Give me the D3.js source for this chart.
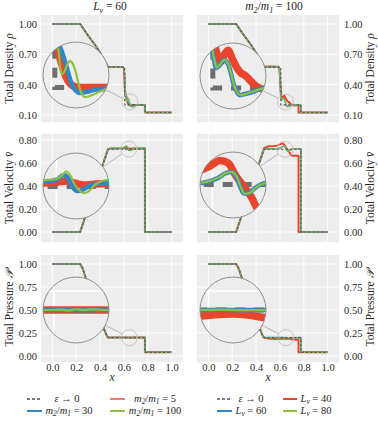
<!DOCTYPE html>
<html lang="en">
<head>
<meta charset="UTF-8">
<title>Shock tube comparison</title>
<script src="https://d3js.org/d3.v7.min.js"></script>
<style>
  body { margin: 0; background: #fff; }
  svg { display: block; }
  svg text { font-family: "Liberation Serif", "DejaVu Serif", serif; }
</style>
</head>
<body>
<svg id="chart" width="378" height="423"></svg>
<script>
// ticks
const xTicks = [0, 0.2, 0.4, 0.6, 0.8, 1.0];
const rhoTicks = [0.10, 0.40, 0.70, 1.00];
const velTicks = [0, 0.2, 0.4, 0.6, 0.8];
const preTicks = [0, 0.25, 0.5, 0.75, 1.0];

// shared rarefaction parts
const rhoFan = [[0, 1], [0.233, 1], [0.3, 0.885], [0.375, 0.765], [0.43, 0.655], [0.467, 0.574]];
const velFan = [[0, 0], [0.233, 0], [0.467, 0.72]];
const preFan = [[0, 1], [0.233, 1], [0.255, 0.95], [0.275, 0.87], [0.32, 0.71], [0.37, 0.53],
                [0.41, 0.375], [0.44, 0.27], [0.46, 0.21], [0.47, 0.2]];

// reference solution, eps -> 0
const refRho = rhoFan.concat([[0.607, 0.574], [0.607, 0.2], [0.776, 0.2], [0.776, 0.125], [1, 0.125]]);
const refVel = velFan.concat([[0.776, 0.72], [0.776, 0], [1, 0]]);
const refPre = preFan.concat([[0.776, 0.2], [0.776, 0.04], [1, 0.04]]);

// left column, L_v = 60 : m2/m1 = 5, 30, 100
const rhoM5 = rhoFan.concat([[0.59, 0.574], [0.597, 0.565], [0.600, 0.55], [0.604, 0.45], [0.608, 0.34],
  [0.6136, 0.29], [0.6197, 0.261], [0.6258, 0.237], [0.6338, 0.216], [0.6439, 0.204], [0.658, 0.2],
  [0.70, 0.2], [0.776, 0.2], [0.776, 0.125], [1, 0.125]]);
const rhoM30 = rhoFan.concat([[0.592, 0.574], [0.601, 0.56], [0.606, 0.48], [0.61, 0.37], [0.6136, 0.314],
  [0.6217, 0.285], [0.6298, 0.254], [0.6359, 0.228], [0.6419, 0.206], [0.65, 0.192], [0.6581, 0.187],
  [0.6702, 0.189], [0.6864, 0.194], [0.7066, 0.1965], [0.7288, 0.199], [0.776, 0.2], [0.776, 0.125], [1, 0.125]]);
const rhoM100 = rhoFan.concat([[0.594, 0.574], [0.602, 0.55], [0.607, 0.45], [0.61, 0.36], [0.6116, 0.314],
  [0.6157, 0.278], [0.6177, 0.249], [0.6217, 0.232], [0.6278, 0.242], [0.6338, 0.259], [0.6379, 0.264],
  [0.6439, 0.256], [0.65, 0.235], [0.6561, 0.204], [0.6621, 0.184], [0.6682, 0.177], [0.6783, 0.18],
  [0.6924, 0.187], [0.7106, 0.196], [0.7288, 0.199], [0.776, 0.2], [0.776, 0.125], [1, 0.125]]);

const velM5 = [[0, 0], [0.233, 0], [0.467, 0.722], [0.5, 0.727], [0.5754, 0.7275], [0.6036, 0.7297],
  [0.6198, 0.7318], [0.636, 0.7275], [0.6562, 0.7233], [0.6804, 0.7254], [0.7046, 0.7265],
  [0.776, 0.727], [0.776, 0], [1, 0]];
const velM30 = [[0, 0], [0.233, 0], [0.467, 0.722], [0.5, 0.728], [0.5754, 0.7297], [0.5915, 0.7318],
  [0.6036, 0.736], [0.6147, 0.7444], [0.6238, 0.7381], [0.6319, 0.7212], [0.64, 0.7117], [0.6461, 0.7107],
  [0.6562, 0.7149], [0.6703, 0.7233], [0.6844, 0.7265], [0.7046, 0.7275], [0.776, 0.728], [0.776, 0], [1, 0]];
const velM100 = [[0, 0], [0.233, 0], [0.467, 0.723], [0.5, 0.732], [0.5754, 0.7339], [0.5956, 0.7349],
  [0.6077, 0.7402], [0.6208, 0.7518], [0.6279, 0.7444], [0.638, 0.7233], [0.6481, 0.7107], [0.6562, 0.7064],
  [0.6663, 0.7107], [0.6804, 0.7254], [0.6925, 0.7318], [0.7046, 0.7339], [0.776, 0.733], [0.776, 0], [1, 0]];

const preM5 = preFan.concat([[0.58, 0.2], [0.62, 0.2], [0.66, 0.2], [0.70, 0.2], [0.776, 0.2], [0.776, 0.04], [1, 0.04]]);
const preM30 = preFan.concat([[0.58, 0.2], [0.62, 0.2005], [0.65, 0.1995], [0.69, 0.2], [0.776, 0.2], [0.776, 0.04], [1, 0.04]]);
const preM100 = preFan.concat([[0.58, 0.2], [0.615, 0.201], [0.63, 0.1985], [0.645, 0.202], [0.66, 0.2],
  [0.68, 0.2015], [0.70, 0.2], [0.776, 0.2], [0.776, 0.04], [1, 0.04]]);

// right column, m2/m1 = 100 : L_v = 40, 60, 80
const rhoL40 = rhoFan.slice(0, 5).concat([[0.467, 0.578], [0.52, 0.58], [0.58, 0.578], [0.588, 0.574],
  [0.595, 0.56], [0.601, 0.48], [0.606, 0.38], [0.609, 0.33], [0.6116, 0.301], [0.6177, 0.277],
  [0.6238, 0.263], [0.6298, 0.279], [0.6379, 0.291], [0.646, 0.272], [0.6561, 0.248], [0.6642, 0.236],
  [0.6722, 0.231], [0.6823, 0.219], [0.6945, 0.205], [0.7066, 0.198], [0.7187, 0.195], [0.74, 0.196],
  [0.756, 0.198], [0.756, 0.125], [1, 0.125]]);
const rhoL60 = rhoFan.concat([[0.588, 0.574], [0.595, 0.56], [0.599, 0.48], [0.602, 0.38], [0.6056, 0.294],
  [0.6096, 0.267], [0.6137, 0.248], [0.6197, 0.253], [0.6298, 0.267], [0.6379, 0.258], [0.644, 0.234],
  [0.65, 0.207], [0.6561, 0.191], [0.6621, 0.183], [0.6722, 0.186], [0.6904, 0.192], [0.7106, 0.2],
  [0.776, 0.2], [0.776, 0.125], [1, 0.125]]);
const rhoL80 = rhoFan.concat([[0.589, 0.574], [0.596, 0.56], [0.6, 0.48], [0.603, 0.38], [0.6066, 0.292],
  [0.6106, 0.266], [0.6147, 0.249], [0.6207, 0.255], [0.6303, 0.268], [0.6384, 0.258], [0.6445, 0.233],
  [0.6505, 0.206], [0.6566, 0.19], [0.6631, 0.183], [0.6732, 0.186], [0.6914, 0.193], [0.7116, 0.2],
  [0.776, 0.2], [0.776, 0.125], [1, 0.125]]);

const velL40 = [[0, 0], [0.233, 0], [0.467, 0.728], [0.5, 0.745], [0.55, 0.748], [0.5753, 0.7506],
  [0.5955, 0.759], [0.6157, 0.7706], [0.6319, 0.7653], [0.6481, 0.7379], [0.6662, 0.7126], [0.6804, 0.6915],
  [0.6925, 0.6683], [0.71, 0.662], [0.74, 0.664], [0.756, 0.662], [0.756, 0], [1, 0]];
const velL60 = [[0, 0], [0.233, 0], [0.467, 0.72], [0.5, 0.723], [0.5753, 0.7231], [0.5955, 0.7274],
  [0.6117, 0.7337], [0.6238, 0.7421], [0.637, 0.7463], [0.6481, 0.7379], [0.6561, 0.7168], [0.6642, 0.701],
  [0.6743, 0.702], [0.6864, 0.7126], [0.7006, 0.721], [0.7107, 0.7231], [0.776, 0.723], [0.776, 0], [1, 0]];
const velL80 = [[0, 0], [0.233, 0], [0.467, 0.72], [0.5, 0.723], [0.5753, 0.7235], [0.5955, 0.7278],
  [0.6127, 0.7345], [0.6248, 0.7428], [0.638, 0.7468], [0.6491, 0.7375], [0.6571, 0.7162], [0.6652, 0.7006],
  [0.6753, 0.7018], [0.6874, 0.7128], [0.7016, 0.7212], [0.7117, 0.7232], [0.776, 0.723], [0.776, 0], [1, 0]];

const preL40 = preFan.slice(0, 8).concat([[0.46, 0.205], [0.47, 0.198], [0.52, 0.188], [0.58, 0.184],
  [0.62, 0.188], [0.65, 0.1895], [0.68, 0.187], [0.72, 0.179], [0.745, 0.177], [0.756, 0.176],
  [0.756, 0.04], [1, 0.04]]);
const preL60 = preFan.concat([[0.58, 0.2], [0.63, 0.2005], [0.67, 0.1998], [0.776, 0.2], [0.776, 0.04], [1, 0.04]]);
const preL80 = preFan.concat([[0.58, 0.2], [0.625, 0.2008], [0.665, 0.1996], [0.776, 0.2], [0.776, 0.04], [1, 0.04]]);

// layout
const serif = "'Liberation Serif', 'DejaVu Serif', serif";
const svg = d3.select("#chart");
const cols = [{ left: 41, right: 183 }, { left: 197, right: 339 }];
const rows = [{ top: 15, bottom: 122 }, { top: 134, bottom: 242 }, { top: 255, bottom: 362 }];
const xDomain = [-0.095, 1.095];
const yDomains = [[0.031, 1.089], [-0.087, 0.852], [-0.065, 1.098]];
const bg = "#ededed";
const colors = ["#e8452c", "#3386c4", "#8fc13e"];
const mainWidth = [2.0, 1.5, 1.1];
const insetWidth = [7.5, 4.6, 2.2];

const panels = [
  { row: 0, col: 0, ref: refRho, series: [rhoM5, rhoM30, rhoM100], ticks: rhoTicks, inset: { cx: 76, cy: 75, x: 0.65, y: 0.23 } },
  { row: 0, col: 1, ref: refRho, series: [rhoL40, rhoL60, rhoL80], ticks: rhoTicks, inset: { cx: 233, cy: 76, x: 0.648, y: 0.229 } },
  { row: 1, col: 0, ref: refVel, series: [velM5, velM30, velM100], ticks: velTicks, inset: { cx: 76, cy: 186, x: 0.64, y: 0.7212 } },
  { row: 1, col: 1, ref: refVel, series: [velL40, velL60, velL80], ticks: velTicks, inset: { cx: 233, cy: 185, x: 0.642, y: 0.719 } },
  { row: 2, col: 0, ref: refPre, series: [preM5, preM30, preM100], ticks: preTicks, inset: { cx: 76, cy: 310, x: 0.645, y: 0.2 } },
  { row: 2, col: 1, ref: refPre, series: [preL40, preL60, preL80], ticks: preTicks, inset: { cx: 233, cy: 310, x: 0.65, y: 0.2 } }
];

const yLabels = [["Total Density ", "ρ"], ["Total Velocity ", "v̄"], ["Total Pressure ", "𝒫"]];

// text with italic parts and subscripts: [text, "n" | "i" | "s"]
function mathText(sel, parts, size, shift = 2.5) {
  let down = false;
  sel.attr("font-family", serif);
  parts.forEach(([t, s]) => {
    const ts = sel.append("tspan").text(t);
    if (s === "i" || s === "s") ts.attr("font-style", "italic");
    if (s === "s" && !down) { ts.attr("dy", shift).attr("font-size", size * 0.7); down = true; }
    else if (s === "s") ts.attr("font-size", size * 0.7);
    else if (down) { ts.attr("dy", -shift); down = false; }
  });
}

panels.forEach((p, pi) => {
  const c = cols[p.col], r = rows[p.row];
  const x = d3.scaleLinear().domain(xDomain).range([c.left, c.right]);
  const y = d3.scaleLinear().domain(yDomains[p.row]).range([r.bottom, r.top]);
  const g = svg.append("g");

  g.append("rect").attr("x", c.left).attr("y", r.top)
    .attr("width", c.right - c.left).attr("height", r.bottom - r.top).attr("fill", bg);

  g.selectAll(".gx").data(xTicks).join("line")
    .attr("x1", d => x(d)).attr("x2", d => x(d)).attr("y1", r.top).attr("y2", r.bottom)
    .attr("stroke", "#fff").attr("stroke-width", 0.9);
  g.selectAll(".gy").data(p.ticks).join("line")
    .attr("x1", c.left).attr("x2", c.right).attr("y1", d => y(d)).attr("y2", d => y(d))
    .attr("stroke", "#fff").attr("stroke-width", 0.9);

  // y axis
  const yAxis = (p.col === 0 ? d3.axisLeft(y) : d3.axisRight(y))
    .tickValues(p.ticks).tickSize(0).tickPadding(p.col === 0 ? 4 : 5).tickFormat(d3.format(".2f"));
  const ya = g.append("g").attr("transform", `translate(${p.col === 0 ? c.left : c.right},0)`).call(yAxis);
  ya.select(".domain").remove();
  ya.attr("font-family", serif).attr("font-size", 10.5).selectAll("text").attr("fill", "#262626");

  if (p.row === 2) {
    const xa = g.append("g").attr("transform", `translate(0,${r.bottom})`)
      .call(d3.axisBottom(x).tickValues(xTicks).tickSize(0).tickPadding(2).tickFormat(d3.format(".1f")));
    xa.select(".domain").remove();
    xa.attr("font-family", serif).attr("font-size", 10.5).selectAll("text").attr("fill", "#262626");
    g.append("text").attr("x", (c.left + c.right) / 2).attr("y", 381).attr("text-anchor", "middle")
      .attr("font-family", serif).attr("font-size", 11.5).attr("font-style", "italic")
      .attr("fill", "#262626").text("x");
  }

  // y label
  const lx = p.col === 0 ? 9 : 370;
  const ly = (r.top + r.bottom) / 2;
  const lt = g.append("text").attr("transform", `translate(${lx},${ly}) rotate(-90)`)
    .attr("text-anchor", "middle").attr("dy", "0.35em").attr("font-size", 11.5).attr("fill", "#262626");
  mathText(lt, [[yLabels[p.row][0], "n"], [yLabels[p.row][1], "i"]], 11.5);

  // main curves
  const line = d3.line().x(d => x(d[0])).y(d => y(d[1]));
  p.series.forEach((s, i) => {
    g.append("path").attr("d", line(s)).attr("fill", "none")
      .attr("stroke", colors[i]).attr("stroke-width", mainWidth[i]).attr("stroke-linejoin", "round");
  });
  g.append("path").attr("d", line(p.ref)).attr("fill", "none")
    .attr("stroke", "#5a5a5a").attr("stroke-width", 1.1).attr("stroke-dasharray", "2.6,1.8");

  // inset
  const ins = p.inset, R = 33, rs = 8;
  const kx = x(1) - x(0), ky = y(0) - y(1);
  const xi = d3.scaleLinear().domain([ins.x - rs / kx, ins.x + rs / kx]).range([ins.cx - R, ins.cx + R]);
  const yi = d3.scaleLinear().domain([ins.y - rs / ky, ins.y + rs / ky]).range([ins.cy + R, ins.cy - R]);
  const sx = x(ins.x), sy = y(ins.y);

  const dx = sx - ins.cx, dy = sy - ins.cy, dl = Math.hypot(dx, dy);
  g.append("line")
    .attr("x1", ins.cx + dx / dl * R).attr("y1", ins.cy + dy / dl * R)
    .attr("x2", sx - dx / dl * rs).attr("y2", sy - dy / dl * rs)
    .attr("stroke", "#a6a6a6").attr("stroke-width", 0.8);
  g.append("circle").attr("cx", sx).attr("cy", sy).attr("r", rs)
    .attr("fill", "none").attr("stroke", "#c2c2c2").attr("stroke-width", 0.9);

  const clipId = "clip" + pi;
  g.append("clipPath").attr("id", clipId).append("circle")
    .attr("cx", ins.cx).attr("cy", ins.cy).attr("r", R);
  const gi = g.append("g").attr("clip-path", `url(#${clipId})`);
  gi.append("circle").attr("cx", ins.cx).attr("cy", ins.cy).attr("r", R).attr("fill", bg);
  gi.selectAll(".igx").data(xTicks.filter(t => t > xi.domain()[0] && t < xi.domain()[1])).join("line")
    .attr("x1", d => xi(d)).attr("x2", d => xi(d)).attr("y1", ins.cy - R).attr("y2", ins.cy + R)
    .attr("stroke", "#fff").attr("stroke-width", 1.6);
  gi.selectAll(".igy").data(p.ticks.filter(t => t > yi.domain()[0] && t < yi.domain()[1])).join("line")
    .attr("x1", ins.cx - R).attr("x2", ins.cx + R).attr("y1", d => yi(d)).attr("y2", d => yi(d))
    .attr("stroke", "#fff").attr("stroke-width", 1.6);

  const lineIn = d3.line().x(d => xi(d[0])).y(d => yi(d[1])).curve(d3.curveMonotoneX);
  const lineRef = d3.line().x(d => xi(d[0])).y(d => yi(d[1]));
  gi.append("path").attr("d", lineRef(p.ref)).attr("fill", "none")
    .attr("stroke", "#6e6e6e").attr("stroke-width", 5).attr("stroke-dasharray", "10,9");
  p.series.forEach((s, i) => {
    gi.append("path").attr("d", lineIn(s)).attr("fill", "none")
      .attr("stroke", colors[i]).attr("stroke-width", insetWidth[i]).attr("stroke-linejoin", "round");
  });
  g.append("circle").attr("cx", ins.cx).attr("cy", ins.cy).attr("r", R)
    .attr("fill", "none").attr("stroke", "#8f8f8f").attr("stroke-width", 1);
});

// titles
const t1 = svg.append("text").attr("x", 110).attr("y", 10).attr("text-anchor", "middle")
  .attr("font-size", 11.5).attr("fill", "#262626");
mathText(t1, [["L", "i"], ["v", "s"], [" = 60", "n"]], 11.5);
const t2 = svg.append("text").attr("x", 274).attr("y", 10).attr("text-anchor", "middle")
  .attr("font-size", 11.5).attr("fill", "#262626");
mathText(t2, [["m", "i"], ["2", "s"], ["/", "n"], ["m", "i"], ["1", "s"], [" = 100", "n"]], 11.5);

// legends
const mRatio = n => [["m", "i"], ["2", "s"], ["/", "n"], ["m", "i"], ["1", "s"], [" = " + n, "n"]];
const lv = n => [["L", "i"], ["v", "s"], [" = " + n, "n"]];
const epsLabel = [["ε", "i"], [" → 0", "n"]];
const legendItems = [
  { x1: 27, x2: 40, y: 399, tx: 67, kind: "ref", label: epsLabel },
  { x1: 110, x2: 125, y: 399, tx: 155, kind: 0, light: true, label: mRatio(5) },
  { x1: 27, x2: 42, y: 411, tx: 69, kind: 1, label: mRatio(30) },
  { x1: 110, x2: 125, y: 411, tx: 155, kind: 2, label: mRatio(100) },
  { x1: 217, x2: 230, y: 399, tx: 251, kind: "ref", label: epsLabel },
  { x1: 283, x2: 297, y: 399, tx: 316, kind: 0, label: lv(40) },
  { x1: 217, x2: 232, y: 411, tx: 251, kind: 1, label: lv(60) },
  { x1: 283, x2: 297, y: 411, tx: 316, kind: 2, label: lv(80) }
];
legendItems.forEach(it => {
  const l = svg.append("line").attr("x1", it.x1).attr("x2", it.x2).attr("y1", it.y).attr("y2", it.y);
  if (it.kind === "ref") {
    l.attr("stroke", "#4f4f4f").attr("stroke-width", 1.3).attr("stroke-dasharray", "3,2");
  } else {
    l.attr("stroke", colors[it.kind]).attr("stroke-width", 2).attr("opacity", it.light ? 0.7 : 1);
  }
  const t = svg.append("text").attr("x", it.tx).attr("y", it.y).attr("dy", "0.3em")
    .attr("text-anchor", "middle").attr("font-size", 10.5).attr("fill", "#262626");
  mathText(t, it.label, 10.5, 1.8);
});
</script>
</body>
</html>
